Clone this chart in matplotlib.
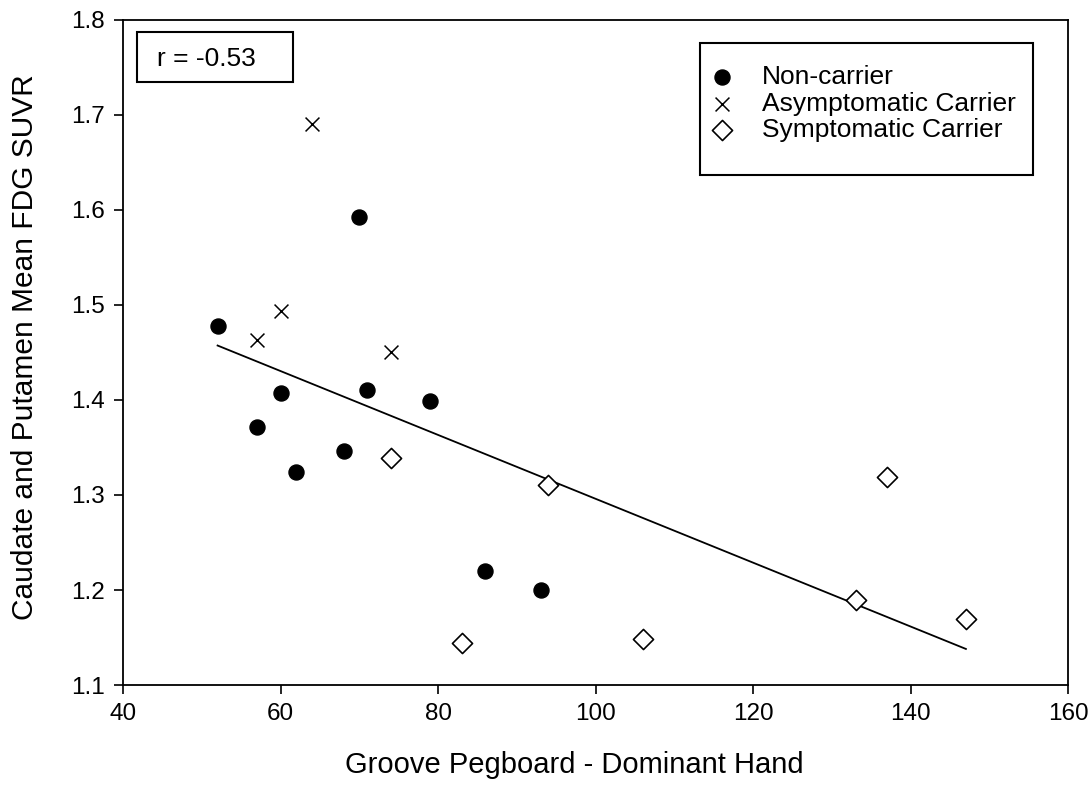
import numpy as np
import matplotlib
matplotlib.use("Agg")
import matplotlib.pyplot as plt
from matplotlib.patches import Rectangle

plt.rcParams['font.family'] = ['Liberation Sans', 'DejaVu Sans']

# data
nc_x = [52, 57, 60, 62, 68, 70, 71, 79, 86, 93]
nc_y = [1.478, 1.372, 1.407, 1.324, 1.346, 1.593, 1.411, 1.399, 1.220, 1.200]
ac_x = [57, 60, 64, 74]
ac_y = [1.463, 1.494, 1.690, 1.451]
sc_x = [74, 83, 94, 106, 133, 137, 147]
sc_y = [1.339, 1.144, 1.311, 1.148, 1.190, 1.319, 1.170]
r_text = 'r = -0.53'

# linear fit over all subjects
all_x = np.array(nc_x + ac_x + sc_x)
all_y = np.array(nc_y + ac_y + sc_y)
slope, icpt = np.polyfit(all_x, all_y, 1)
fit_x = np.array([all_x.min(), all_x.max()])

fig = plt.figure(figsize=(10.89, 7.97), dpi=100)
ax = fig.add_axes([0.113, 0.1405, 0.868, 0.8345])

ax.scatter(nc_x, nc_y, s=117, c='black', marker='o', label='Non-carrier', zorder=3)
ax.scatter(ac_x, ac_y, s=100, c='black', marker='x', linewidths=1.1, label='Asymptomatic Carrier', zorder=3)
ax.scatter(sc_x, sc_y, s=105, facecolors='white', edgecolors='black', marker='D', linewidths=1.2,
           label='Symptomatic Carrier', zorder=3)
ax.plot(fit_x, slope * fit_x + icpt, color='black', lw=1.3, zorder=2)

ax.set_xlim(40, 160)
ax.set_ylim(1.1, 1.8)
ax.set_xticks(np.arange(40, 161, 20))
yt = np.arange(1.1, 1.81, 0.1)
ax.set_yticks(yt)
ax.set_yticklabels(['%.1f' % v for v in yt])
ax.tick_params(direction='out', length=6.5, width=1.2, labelsize=17.5, pad=6.5)
for sp in ax.spines.values():
    sp.set_linewidth(1.3)

ax.set_xlabel('Groove Pegboard - Dominant Hand', fontsize=21)
ax.set_ylabel('Caudate and Putamen Mean FDG SUVR', fontsize=21.5)
ax.xaxis.set_label_coords(0.477, -0.099)
ax.yaxis.label.set_va('center')
ax.yaxis.set_label_coords(-0.104, 0.508)

# r box
ax.add_patch(Rectangle((0.0148, 0.9068), 0.1651, 0.0752, transform=ax.transAxes,
                       fill=False, ec='black', lw=1.5, zorder=4))
ax.text(0.036, 0.9414, r_text, transform=ax.transAxes, fontsize=19, va='center', ha='left')

# legend with its own frame
ax.add_patch(Rectangle((0.6106, 0.7669), 0.3524, 0.1985, transform=ax.transAxes,
                       fill=True, fc='white', ec='black', lw=1.5, zorder=4))
leg = ax.legend(loc='upper left', bbox_to_anchor=(0.6201, 0.9323), fontsize=19, frameon=False,
                borderpad=0, handlelength=1.0, handletextpad=1.0, labelspacing=0.1,
                borderaxespad=0)
leg.set_zorder(5)

fig.savefig('out.png', dpi=100)
